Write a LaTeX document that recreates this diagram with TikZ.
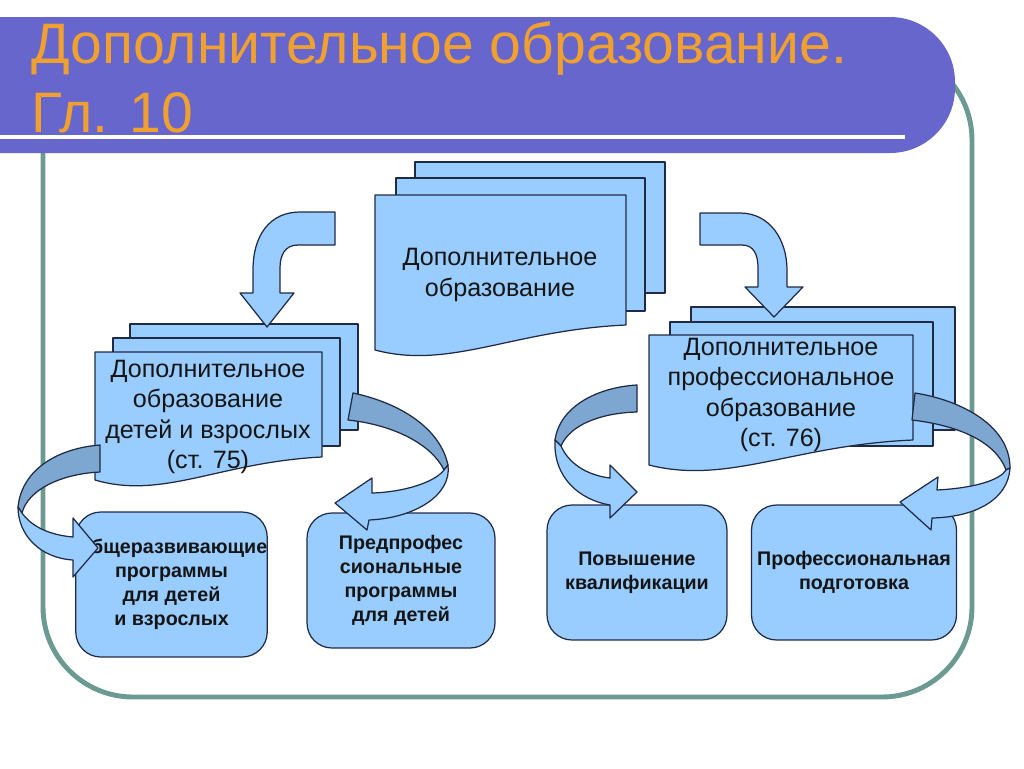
\documentclass[tikz,border=0pt]{standalone}
\usepackage{fontspec}
\setmainfont{Liberation Sans}
\definecolor{barc}{HTML}{6666CC}
\definecolor{ttl}{HTML}{F0A030}
\definecolor{framec}{HTML}{6A9A92}
\definecolor{lb}{HTML}{99CCFF}
\definecolor{db}{HTML}{7DA6D0}
\definecolor{ink}{HTML}{1F2A44}
\definecolor{txt}{HTML}{151515}
\begin{document}
\begin{tikzpicture}[x=0.02cm,y=-0.02cm,
  shp/.style={fill=lb,draw=ink,line width=0.7pt,line join=round},
  drk/.style={fill=db,draw=ink,line width=0.7pt,line join=round},
  doctext/.style={inner sep=0pt,align=center,text=txt,font=\fontsize{14.3}{17.4}\selectfont},
  boxnode/.style={shp,rounded corners=0.5cm,inner sep=0pt,align=center,text=txt,font=\bfseries\fontsize{11.2}{13.6}\selectfont},
  titletext/.style={anchor=base west,inner sep=0pt,text=ttl,font=\fontsize{32.5}{39}\selectfont}]
\useasboundingbox (0,0) rectangle (1024,768);
\fill[white] (0,0) rectangle (1024,768);
% frame
\draw[framec,line width=2.8pt,rounded corners=1.8cm] (43,50) rectangle (972,697);
% title bar
\fill[barc] (0,17) [rounded corners=1.3cm] -- (955,17) -- (955,153) [sharp corners] -- (0,153) -- cycle;
\draw[white,line width=2.3pt] (0,137) -- (905,137);
\node[titletext] (t1) at (31,63) {Дополнительное образование.};
\node[titletext] (t2) at (31,132) {Гл. 10};

% central document stack
\draw[shp] (415,162) rectangle (665,293);
\draw[shp] (396,178) rectangle (645,311);
\draw[shp] (375,195) -- (626,195) -- (626,325) .. controls (513,330) and (450,370) .. (375,350) -- cycle;
\node[doctext] (main) at (500,275) {Дополнительное\\образование};

% left document stack
\draw[shp] (130,324) rectangle (358,430);
\draw[shp] (113,338) rectangle (340,446);
\draw[shp] (95,352) -- (322,352) -- (322,457) .. controls (220,462) and (163,500) .. (95,480) -- cycle;
\node[doctext] (left) at (208,417) {Дополнительное\\образование\\детей и взрослых\\(ст. 75)};

% right document stack
\draw[shp] (691,307) rectangle (955,430);
\draw[shp] (670,322) rectangle (933,446);
\draw[shp] (649,335) -- (913,335) -- (913,440) .. controls (794,445) and (728,485) .. (649,465) -- cycle;
\node[doctext] (right) at (781,395) {Дополнительное\\профессиональное\\образование\\(ст. 76)};

% bent arrows from the central document
\draw[shp] (335,212) -- (300,212) .. controls (270,212) and (253,235) .. (253,270) -- (253,293) -- (240,293) -- (267,327) -- (294,293) -- (280,293) -- (280,268) .. controls (280,255) and (285,245) .. (298,245) -- (335,245) -- cycle;
\draw[shp] (700,213) -- (740,213) .. controls (770,213) and (787,240) .. (787,270) -- (787,287) -- (803,287) -- (774,317) -- (745,287) -- (758,287) -- (758,268) .. controls (758,255) and (754,245) .. (742,245) -- (700,245) -- cycle;

% bottom boxes
\node[boxnode,minimum width=3.74cm,minimum height=2.9cm] (b1) at (171.5,584.5) {Общеразвивающие\\программы\\для детей\\и взрослых};
\node[boxnode,minimum width=3.76cm,minimum height=2.7cm] (b2) at (401,580.5) {Предпрофес\\сиональные\\программы\\для детей};
\node[boxnode,minimum width=3.6cm,minimum height=2.7cm] (b3) at (637,572.5) {Повышение\\квалификации};
\node[boxnode,minimum width=4.1cm,minimum height=2.7cm] (b4) at (854,572.5) {Профессиональная\\подготовка};

% curved ribbon arrows
% (a) left doc -> box 1
\draw[drk] (100,445) .. controls (60,448) and (22,468) .. (18,507) -- (22,513) .. controls (28,490) and (60,474) .. (100,472) -- cycle;
\draw[shp] (18,507) .. controls (18,535) and (40,558) .. (73,560) -- (73,577) -- (98,548) -- (73,518) -- (73,537) .. controls (50,535) and (32,527) .. (22,513) -- cycle;
% (b) left doc -> box 2
\draw[drk] (353,393) .. controls (400,403) and (440,428) .. (448,465) -- (444,470) .. controls (432,445) and (395,425) .. (348,420) -- cycle;
\draw[shp] (448,465) .. controls (452,495) and (415,518) .. (369,520) -- (367,530) -- (335,503) -- (372,478) -- (372,493) .. controls (405,492) and (435,482) .. (444,470) -- cycle;
% (c) right doc -> box 3
\draw[drk] (637,385) .. controls (600,387) and (560,405) .. (555,440) -- (561,446) .. controls (570,425) and (600,413) .. (637,412) -- cycle;
\draw[shp] (555,440) .. controls (553,478) and (580,500) .. (610,505) -- (610,518) -- (637,492) -- (610,465) -- (610,478) .. controls (585,475) and (568,462) .. (561,446) -- cycle;
% (d) right doc -> box 4
\draw[drk] (915,393) .. controls (960,400) and (1010,425) .. (1010,468) -- (1006,470) .. controls (995,440) and (955,425) .. (912,420) -- cycle;
\draw[shp] (1010,468) .. controls (1008,500) and (975,517) .. (932,518) -- (931,530) -- (900,502) -- (938,477) -- (937,490) .. controls (975,488) and (1000,480) .. (1006,470) -- cycle;
\end{tikzpicture}
\end{document}
